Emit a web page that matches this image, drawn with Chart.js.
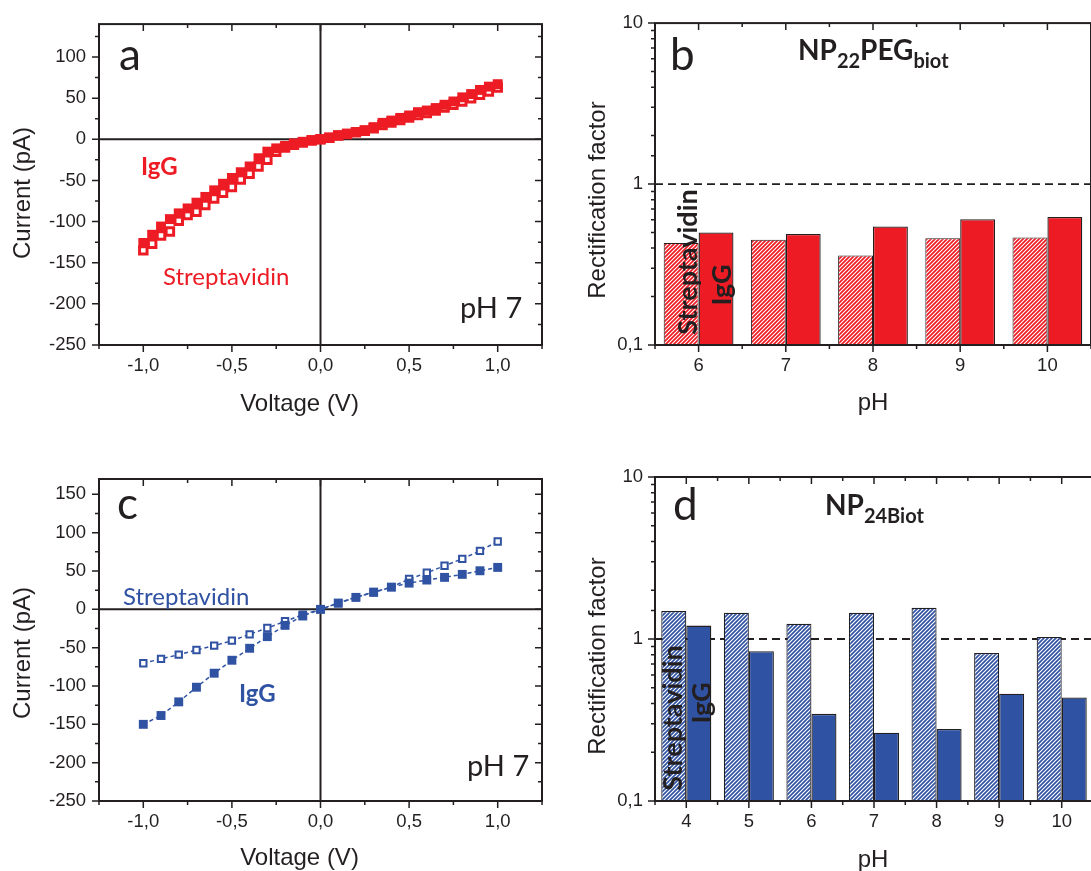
<!DOCTYPE html>
<html>
<head>
<meta charset="utf-8">
<script src="https://cdn.jsdelivr.net/npm/chart.js@4.4.1/dist/chart.umd.min.js"></script>
<style>
  html, body { margin: 0; background: #fff; overflow: hidden; width: 1091px; height: 871px; position: relative; }
  canvas { position: absolute; }
</style>
</head>
<body>
<canvas id="pa" width="560" height="430" style="left:0;top:0"></canvas>
<canvas id="pb" width="531" height="430" style="left:560px;top:0"></canvas>
<canvas id="pc" width="560" height="431" style="left:0;top:440px"></canvas>
<canvas id="pd" width="533" height="431" style="left:560px;top:440px"></canvas>
<script>
const ink = '#231f20';
const red = '#ed1c24';
const blue = '#3052a2';

// (a) I-V curves, pH 7, red set
const voltsA = [-1.0, -0.95, -0.9, -0.85, -0.8, -0.75, -0.7, -0.65, -0.6, -0.55, -0.5, -0.45, -0.4, -0.35, -0.3, -0.25, -0.2, -0.15, -0.1, -0.05,
  0, 0.05, 0.1, 0.15, 0.2, 0.25, 0.3, 0.35, 0.4, 0.45, 0.5, 0.55, 0.6, 0.65, 0.7, 0.75, 0.8, 0.85, 0.9, 0.95, 1.0];
const iggA = [-126, -116, -106, -97, -90, -84, -77, -70, -62, -54, -47, -40, -33, -23, -15, -11, -8, -5, -3, -1,
  0, 2, 4.8, 6.8, 8.8, 11, 14.8, 20, 22.8, 26, 29, 33, 35, 38, 42, 46, 51, 55, 60, 64, 67];
const streptA = [-135, -127, -117, -112, -99, -92, -88, -80, -72, -65, -58, -49, -42, -33, -25, -15, -10, -6.5, -4, -1.5,
  0, 1.8, 4.5, 6.5, 8.5, 10.5, 13.5, 17.5, 20.5, 23.5, 26.5, 29.5, 32, 35, 38.5, 42, 46, 50, 54, 58, 63];

// (c) I-V curves, pH 7, blue set
const voltsC = [-1.0, -0.9, -0.8, -0.7, -0.6, -0.5, -0.4, -0.3, -0.2, -0.1, 0, 0.1, 0.2, 0.3, 0.4, 0.5, 0.6, 0.7, 0.8, 0.9, 1.0];
const iggC = [-150, -138.5, -120.7, -101.6, -83.3, -66.4, -50.8, -35.6, -20.9, -8.7, 0, 8.2, 15.6, 22.5, 29, 34.2, 38.2, 41.7, 45.6, 50.3, 54.7];
const streptC = [-70.3, -64.7, -59.1, -53, -47.4, -40.9, -32.6, -24.3, -15.6, -7, 0, 8, 16, 22, 29, 39.5, 47.7, 56.8, 65.9, 76.3, 88.5];

// (b) rectification factor, NP22PEGbiot
const phB = ['6', '7', '8', '9', '10'];
const rfStreptB = [0.43, 0.45, 0.36, 0.46, 0.465];
const rfIggB = [0.50, 0.49, 0.545, 0.605, 0.625];

// (d) rectification factor, NP24Biot
const phD = ['4', '5', '6', '7', '8', '9', '10'];
const rfStreptD = [1.49, 1.45, 1.24, 1.45, 1.56, 0.82, 1.03];
const rfIggD = [1.21, 0.84, 0.345, 0.264, 0.278, 0.46, 0.435];

const tickFont = { family: 'Liberation Sans', size: 18.5 };
const titleFont = '24px "Liberation Sans"';
const comma = v => v.toFixed(1).replace('.', ',');

function hatch(color, size, lw) {
  const c = document.createElement('canvas');
  c.width = c.height = size;
  const g = c.getContext('2d');
  g.fillStyle = color;
  g.fillRect(0, 0, size, size);
  g.strokeStyle = '#fff';
  g.lineWidth = lw;
  g.beginPath();
  g.moveTo(0, size); g.lineTo(size, 0);
  g.moveTo(-size / 2, size / 2); g.lineTo(size / 2, -size / 2);
  g.moveTo(size / 2, size * 1.5); g.lineTo(size * 1.5, size / 2);
  g.stroke();
  return g.createPattern(c, 'repeat');
}

function xyPoints(xs, ys) {
  return xs.map((x, i) => ({ x, y: ys[i] }));
}

function tickList(scale) {
  if (scale.type === 'category') {
    const n = scale.getLabels().length;
    const out = [];
    for (let i = 0; i < n; i++) out.push({ p: scale.getPixelForValue(i), major: true });
    for (let i = 0; i <= n; i++) out.push({ p: scale.getPixelForValue(i - 0.5), major: false });
    return out;
  }
  return scale.ticks.map(t => ({ p: scale.getPixelForValue(t.value), major: t.label !== '' }));
}

function drawText(ctx, t, ox, oy) {
  ctx.save();
  ctx.fillStyle = t.color || ink;
  ctx.translate(t.x - ox, t.y - oy);
  if (t.rot) ctx.rotate(t.rot);
  ctx.textBaseline = t.baseline || 'alphabetic';
  ctx.textAlign = 'left';
  const runs = t.runs || [{ text: t.text, font: t.font }];
  let w = 0;
  runs.forEach(r => { ctx.font = r.font; w += ctx.measureText(r.text).width; });
  let x = t.align === 'center' ? -w / 2 : 0;
  runs.forEach(r => {
    ctx.font = r.font;
    ctx.fillText(r.text, x, r.dy || 0);
    x += ctx.measureText(r.text).width;
  });
  ctx.restore();
}

function panel(cfg) {
  return {
    id: 'panel',
    beforeDatasetsDraw(chart) {
      const { ctx, chartArea: a, scales: { x, y } } = chart;
      ctx.save();
      ctx.strokeStyle = ink;
      if (cfg.zero) {
        const x0 = x.getPixelForValue(0), y0 = y.getPixelForValue(0);
        ctx.lineWidth = 2;
        ctx.beginPath();
        ctx.moveTo(a.left, y0); ctx.lineTo(a.right, y0);
        ctx.moveTo(x0, a.top); ctx.lineTo(x0, a.bottom);
        ctx.stroke();
      }
      if (cfg.unity) {
        const y1 = y.getPixelForValue(1);
        ctx.lineWidth = 1.8;
        ctx.setLineDash([8, 5]);
        ctx.beginPath();
        ctx.moveTo(a.left, y1); ctx.lineTo(a.right, y1);
        ctx.stroke();
      }
      ctx.restore();
    },
    afterDraw(chart) {
      const { ctx, chartArea: a, scales: { x, y } } = chart;
      ctx.save();
      ctx.strokeStyle = ink;
      ctx.lineWidth = 2;
      ctx.strokeRect(a.left, a.top, a.right - a.left, a.bottom - a.top);
      ctx.lineWidth = 1.5;
      ctx.beginPath();
      tickList(x).forEach(t => {
        const L = t.major ? 7 : 4;
        ctx.moveTo(t.p, a.bottom); ctx.lineTo(t.p, a.bottom + L);
        ctx.moveTo(t.p, a.top); ctx.lineTo(t.p, a.top + L);
      });
      tickList(y).forEach(t => {
        const L = t.major ? 7 : 4;
        ctx.moveTo(a.left, t.p); ctx.lineTo(a.left - L, t.p);
        if (cfg.right) { ctx.moveTo(a.right, t.p); ctx.lineTo(a.right - L, t.p); }
      });
      ctx.stroke();
      ctx.restore();
      const ox = chart.canvas.offsetLeft, oy = chart.canvas.offsetTop;
      cfg.texts.forEach(t => drawText(ctx, t, ox, oy));
    }
  };
}

function ivScales(ymin, ymax, xh) {
  return {
    x: {
      type: 'linear', min: -1.25, max: 1.25,
      grid: { display: false, drawTicks: false }, border: { display: false },
      ticks: {
        stepSize: 0.25, autoSkip: false, maxRotation: 0, includeBounds: false, padding: 10,
        color: ink, font: tickFont,
        callback: v => Math.abs(v * 2 - Math.round(v * 2)) < 1e-6 ? comma(v) : ''
      },
      afterFit: s => { s.height = xh; }
    },
    y: {
      type: 'linear', min: ymin, max: ymax,
      grid: { display: false, drawTicks: false }, border: { display: false },
      ticks: {
        stepSize: 25, autoSkip: false, includeBounds: false, padding: 13,
        color: ink, font: tickFont,
        callback: v => v % 50 === 0 ? String(v) : ''
      },
      afterFit: s => { s.width = 99; }
    }
  };
}

function rfScales(xh) {
  return {
    x: {
      type: 'category', offset: true,
      grid: { display: false, drawTicks: false, offset: true }, border: { display: false },
      ticks: { autoSkip: false, maxRotation: 0, padding: 10, color: ink, font: tickFont },
      afterFit: s => { s.height = xh; }
    },
    y: {
      type: 'logarithmic', min: 0.1, max: 10,
      grid: { display: false, drawTicks: false }, border: { display: false },
      ticks: {
        autoSkip: false, padding: 12, color: ink, font: tickFont,
        callback: v => {
          const l = Math.log10(v);
          if (Math.abs(l - Math.round(l)) > 1e-6) return '';
          return v < 0.5 ? '0,1' : String(Math.round(v));
        }
      },
      afterFit: s => { s.width = 95; }
    }
  };
}

const common = {
  responsive: false,
  animation: false,
  events: [],
  plugins: { legend: { display: false }, tooltip: { enabled: false } }
};

const letter = '44px Lato';

// (a) – IgG listed first so its filled squares sit on top
new Chart(document.getElementById('pa'), {
  type: 'scatter',
  data: {
    datasets: [
      { label: 'IgG', data: xyPoints(voltsA, iggA), pointStyle: 'rect', pointRadius: 7,
        pointBackgroundColor: red, pointBorderColor: red, pointBorderWidth: 0 },
      { label: 'Streptavidin', data: xyPoints(voltsA, streptA), pointStyle: 'rect', pointRadius: 5.3,
        pointBackgroundColor: '#fff', pointBorderColor: red, pointBorderWidth: 3 }
    ]
  },
  options: { ...common, layout: { padding: { top: 20, right: 18, left: 0, bottom: 0 } }, scales: ivScales(-250, 140, 85) },
  plugins: [panel({
    zero: true, right: true,
    texts: [
      { text: 'a', font: letter, x: 119, y: 70 },
      { text: 'IgG', font: 'bold 24px Lato', color: red, x: 141, y: 175 },
      { text: 'Streptavidin', font: '24px Lato', color: red, x: 163, y: 285 },
      { text: 'pH 7', font: '29px Lato', x: 460, y: 318 },
      { text: 'Voltage (V)', font: titleFont, x: 299.5, y: 404, align: 'center', baseline: 'middle' },
      { text: 'Current (pA)', font: titleFont, x: 23, y: 193, align: 'center', baseline: 'middle', rot: -Math.PI / 2 }
    ]
  })]
});

// (c)
new Chart(document.getElementById('pc'), {
  type: 'scatter',
  data: {
    datasets: [
      { label: 'IgG', data: xyPoints(voltsC, iggC), showLine: true, borderColor: blue, borderWidth: 1.5,
        borderDash: [4, 3], pointStyle: 'rect', pointRadius: 6.3,
        pointBackgroundColor: blue, pointBorderColor: blue, pointBorderWidth: 0 },
      { label: 'Streptavidin', data: xyPoints(voltsC, streptC), showLine: true, borderColor: blue, borderWidth: 1.5,
        borderDash: [4, 3], pointStyle: 'rect', pointRadius: 4.5,
        pointBackgroundColor: '#fff', pointBorderColor: blue, pointBorderWidth: 2 }
    ]
  },
  options: { ...common, layout: { padding: { top: 39, right: 18, left: 0, bottom: 0 } }, scales: ivScales(-250, 170, 70) },
  plugins: [panel({
    zero: true, right: true,
    texts: [
      { text: 'c', font: letter, x: 117, y: 519 },
      { text: 'Streptavidin', font: '24px Lato', color: blue, x: 123, y: 605 },
      { text: 'IgG', font: 'bold 24px Lato', color: blue, x: 239, y: 702 },
      { text: 'pH 7', font: '29px Lato', x: 467, y: 776 },
      { text: 'Voltage (V)', font: titleFont, x: 299.5, y: 858, align: 'center', baseline: 'middle' },
      { text: 'Current (pA)', font: titleFont, x: 23, y: 653, align: 'center', baseline: 'middle', rot: -Math.PI / 2 }
    ]
  })]
});

// (b)
new Chart(document.getElementById('pb'), {
  type: 'bar',
  data: {
    labels: phB,
    datasets: [
      { label: 'Streptavidin', data: rfStreptB, backgroundColor: hatch(red, 4, 1.1), borderColor: ink, borderWidth: 1 },
      { label: 'IgG', data: rfIggB, backgroundColor: red, borderColor: ink, borderWidth: 1.3 }
    ]
  },
  options: {
    ...common, layout: { padding: { top: 20, right: 0, left: 0, bottom: 0 } },
    datasets: { bar: { categoryPercentage: 0.8, barPercentage: 1 } },
    scales: rfScales(85)
  },
  plugins: [panel({
    unity: true,
    texts: [
      { text: 'b', font: letter, x: 670, y: 70 },
      { x: 798, y: 60, runs: [
        { text: 'NP', font: 'bold 28px Lato' },
        { text: '22', font: 'bold 20px Lato', dy: 8 },
        { text: 'PEG', font: 'bold 28px Lato' },
        { text: 'biot', font: 'bold 20px Lato', dy: 8 }
      ] },
      { text: 'Streptavidin', font: 'bold 27px Lato', x: 688, y: 262, align: 'center', baseline: 'middle', rot: -Math.PI / 2 },
      { text: 'IgG', font: 'bold 27px Lato', x: 722, y: 285, align: 'center', baseline: 'middle', rot: -Math.PI / 2 },
      { text: 'pH', font: titleFont, x: 873, y: 403, align: 'center', baseline: 'middle' },
      { text: 'Rectification factor', font: titleFont, x: 598, y: 200, align: 'center', baseline: 'middle', rot: -Math.PI / 2 }
    ]
  })]
});

// (d)
new Chart(document.getElementById('pd'), {
  type: 'bar',
  data: {
    labels: phD,
    datasets: [
      { label: 'Streptavidin', data: rfStreptD, backgroundColor: hatch(blue, 4, 1.2), borderColor: ink, borderWidth: 1.2 },
      { label: 'IgG', data: rfIggD, backgroundColor: blue, borderColor: ink, borderWidth: 1.3 }
    ]
  },
  options: {
    ...common, layout: { padding: { top: 37, right: 0, left: 0, bottom: 0 } },
    datasets: { bar: { categoryPercentage: 0.8, barPercentage: 1 } },
    scales: rfScales(70)
  },
  plugins: [panel({
    unity: true,
    texts: [
      { text: 'd', font: letter, x: 673, y: 520 },
      { x: 825, y: 515, runs: [
        { text: 'NP', font: 'bold 28px Lato' },
        { text: '24Biot', font: 'bold 20px Lato', dy: 8 }
      ] },
      { text: 'Streptavidin', font: 'bold 27px Lato', x: 673, y: 718, align: 'center', baseline: 'middle', rot: -Math.PI / 2 },
      { text: 'IgG', font: 'bold 27px Lato', x: 702, y: 703, align: 'center', baseline: 'middle', rot: -Math.PI / 2 },
      { text: 'pH', font: titleFont, x: 873, y: 860, align: 'center', baseline: 'middle' },
      { text: 'Rectification factor', font: titleFont, x: 598, y: 656, align: 'center', baseline: 'middle', rot: -Math.PI / 2 }
    ]
  })]
});
</script>
</body>
</html>
